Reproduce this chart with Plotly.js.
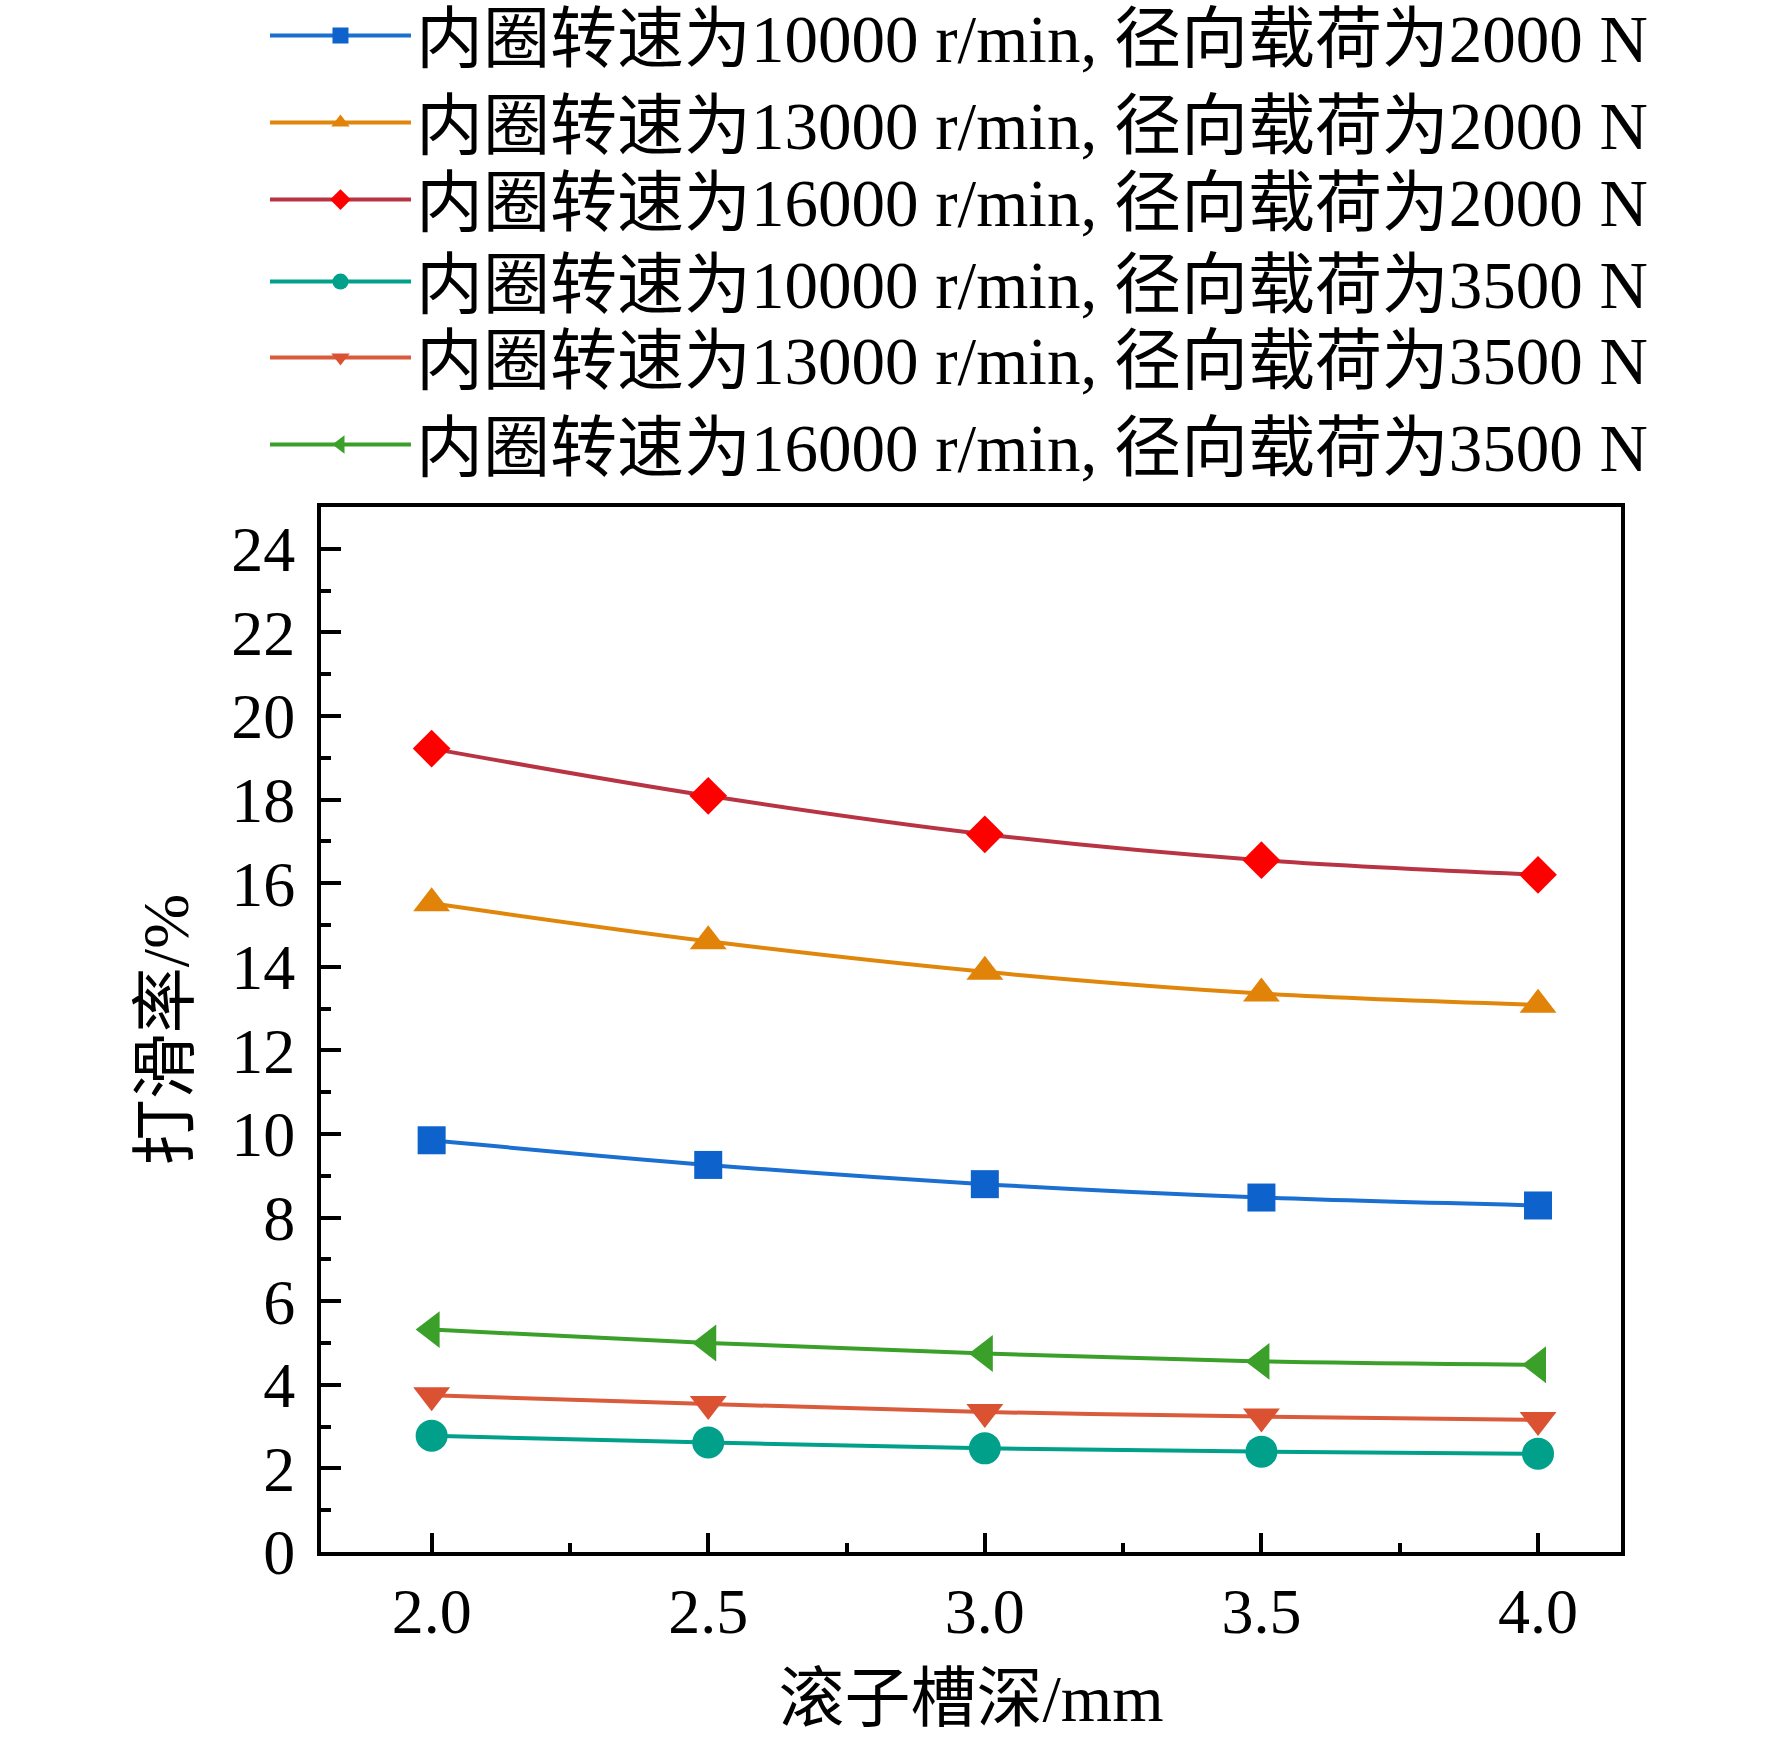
<!DOCTYPE html>
<html>
<head>
<meta charset="utf-8">
<script src="https://cdn.plot.ly/plotly-3.0.1.min.js"></script>
<style>
  body { margin: 0; background: #fff; }
  #chart { width: 1772px; height: 1740px; }
</style>
</head>
<body>
<div id="chart"></div>
<script>
// groove depth (mm)
var depth = [2.0, 2.5, 3.0, 3.5, 4.0];
var depthText = ['2.0', '2.5', '3.0', '3.5', '4.0'];

// slip rate (%)
var slip10k2000 = [9.85, 9.26, 8.80, 8.48, 8.29];
var slip13k2000 = [15.52, 14.61, 13.88, 13.36, 13.09];
var slip16k2000 = [19.22, 18.09, 17.17, 16.55, 16.20];
var slip10k3500 = [2.78, 2.62, 2.48, 2.40, 2.35];
var slip13k3500 = [3.75, 3.54, 3.35, 3.24, 3.16];
var slip16k3500 = [5.32, 5.00, 4.75, 4.56, 4.48];

var names = [
  '内圈转速为10000 r/min, 径向载荷为2000 N',
  '内圈转速为13000 r/min, 径向载荷为2000 N',
  '内圈转速为16000 r/min, 径向载荷为2000 N',
  '内圈转速为10000 r/min, 径向载荷为3500 N',
  '内圈转速为13000 r/min, 径向载荷为3500 N',
  '内圈转速为16000 r/min, 径向载荷为3500 N'
];

var FONT = 'Liberation Serif, "Times New Roman", "Noto Sans CJK SC", serif';

// one legend per trace so the rows can sit where the original has them
var legendIds = ['legend', 'legend2', 'legend3', 'legend4', 'legend5', 'legend6'];
var legendRowY = [1.4507, 1.3675, 1.2938, 1.2153, 1.1426, 1.0593];

function series(i, y, lineColor, markColor, symbol, size)
{
  return {
    x: depth,
    y: y,
    name: names[i],
    legend: legendIds[i],
    type: 'scatter',
    mode: 'lines+markers',
    line: {color: lineColor, width: 4, shape: 'spline'},
    marker: {color: markColor, symbol: symbol, size: size}
  };
}

var traces = [
  series(0, slip10k2000, '#1a6fd0', '#0d63cb', 'square', 28),
  series(1, slip13k2000, '#e0860a', '#e08308', 'triangle-up', 32),
  series(2, slip16k2000, '#b83444', '#ff0000', 'diamond', 29),
  series(3, slip10k3500, '#00a08a', '#00a08a', 'circle', 32),
  series(4, slip13k3500, '#da5a3c', '#da5232', 'triangle-down', 32),
  series(5, slip16k3500, '#3aa02a', '#3aa02a', 'triangle-left', 32)
];

var layout = {
  width: 1772,
  height: 1740,
  paper_bgcolor: '#fff',
  plot_bgcolor: '#fff',
  font: {family: FONT, size: 64, color: '#000'},
  margin: {l: 321, r: 151, t: 507, b: 188, autoexpand: false},
  showlegend: true,
  xaxis: {
    range: [1.8, 4.15],
    tickmode: 'array',
    tickvals: depth,
    ticktext: depthText,
    ticks: 'inside', ticklen: 19, tickwidth: 3.5, tickcolor: '#000',
    minor: {dtick: 0.25, tick0: 2.0, ticks: 'inside', ticklen: 9, tickwidth: 3.5, tickcolor: '#000'},
    showline: true, linewidth: 4, linecolor: '#000', mirror: true,
    showgrid: false, zeroline: false,
    ticklabelstandoff: 0,
    tickfont: {family: FONT, size: 64},
    title: {text: '滚子槽深/mm', font: {family: FONT, size: 66}, standoff: 30}
  },
  yaxis: {
    range: [0, 25],
    tickmode: 'linear', tick0: 0, dtick: 2,
    ticks: 'inside', ticklen: 20, tickwidth: 3.5, tickcolor: '#000',
    minor: {dtick: 1, ticks: 'inside', ticklen: 10, tickwidth: 3.5, tickcolor: '#000'},
    showline: true, linewidth: 4, linecolor: '#000', mirror: true,
    showgrid: false, zeroline: false,
    ticklabelstandoff: 9,
    tickfont: {family: FONT, size: 64},
    title: {text: '打滑率/%', font: {family: FONT, size: 66}, standoff: 22}
  }
};

for (var i = 0; i < legendIds.length; i++)
{
  layout[legendIds[i]] = {
    x: -0.0431, xanchor: 'left',
    y: legendRowY[i], yanchor: 'middle',
    font: {family: FONT, size: 67, color: '#000'},
    bgcolor: 'rgba(0,0,0,0)',
    itemwidth: 141
  };
}

Plotly.newPlot(document.getElementById('chart'), traces, layout, {displayModeBar: false});
</script>
</body>
</html>
